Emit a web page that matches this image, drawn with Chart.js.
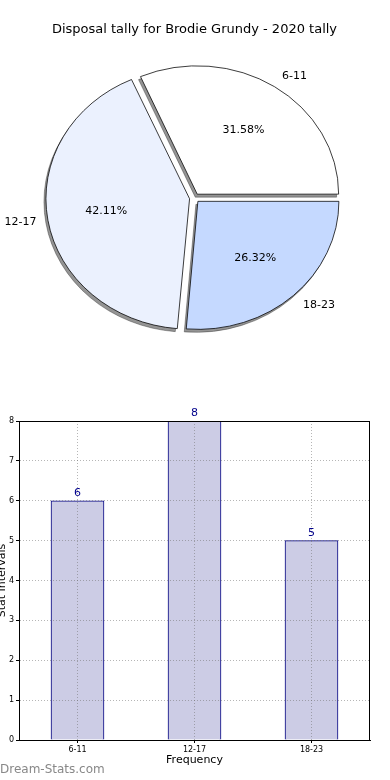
<!DOCTYPE html>
<html>
<head>
<meta charset="utf-8">
<script src="https://cdn.jsdelivr.net/npm/chart.js@4.4.1/dist/chart.umd.min.js"></script>
<style>
body { margin: 0; background: #fff; width: 390px; height: 780px; position: relative; overflow: hidden; }
#pie-chart { position: absolute; left: 0; top: 0; }
#bar-chart { position: absolute; left: 0; top: 390px; }
#mark { position: absolute; left: 0; top: 762px; font: 12px "DejaVu Sans", sans-serif; color: #888; }
</style>
</head>
<body>
<canvas id="pie-chart" width="390" height="370"></canvas>
<canvas id="bar-chart" width="390" height="390"></canvas>
<div id="mark">Dream-Stats.com</div>
<script>
const categories = ['6-11', '12-17', '18-23'];
const tally = [6, 8, 5];
const sliceColours = ['#ffffff', '#ebf1fe', '#c5d9ff'];
const chartTitle = 'Disposal tally for Brodie Grundy - 2020 tally';

Chart.defaults.font.family = '"DejaVu Sans", sans-serif';

const total = tally.reduce((a, b) => a + b, 0);
// matplotlib goes counter-clockwise from 3 o'clock, chart.js clockwise -> reverse
const pieLabels = categories.slice().reverse();
const pieValues = tally.slice().reverse();
const pieColours = sliceColours.slice().reverse();
const squash = 128 / 141;

function squashAround(ctx, arc) {
    ctx.translate(arc.x, arc.y);
    ctx.scale(1, squash);
    ctx.translate(-arc.x, -arc.y);
}

const pieShape = {
    id: 'pieShape',
    beforeDatasetsDraw(chart) {
        const ctx = chart.ctx;
        const arcs = chart.getDatasetMeta(0).data;
        // grey drop shadow, drawn once under everything
        ctx.save();
        ctx.translate(-2, 3);
        squashAround(ctx, arcs[0]);
        ctx.filter = 'brightness(0) opacity(0.42)';
        arcs.forEach(arc => arc.draw(ctx));
        ctx.restore();
        ctx.save();
        squashAround(ctx, arcs[0]);
    },
    afterDatasetsDraw(chart) {
        const ctx = chart.ctx;
        ctx.restore();
        ctx.save();
        ctx.fillStyle = '#000';
        ctx.font = '11px "DejaVu Sans", sans-serif';
        ctx.textBaseline = 'middle';
        chart.getDatasetMeta(0).data.forEach((arc, i) => {
            const p = arc.getProps(['x', 'y', 'startAngle', 'endAngle', 'outerRadius'], true);
            const mid = (p.startAngle + p.endAngle) / 2;
            const off = (arc.options.offset || 0) / 4;
            const cx = p.x + Math.cos(mid) * off;
            const cy = p.y + Math.sin(mid) * off * squash;
            const lx = cx + Math.cos(mid) * p.outerRadius * 1.1;
            const ly = cy + Math.sin(mid) * p.outerRadius * 1.1 * squash;
            ctx.textAlign = lx > cx ? 'left' : 'right';
            ctx.fillText(pieLabels[i], lx, ly);
            const px = cx + Math.cos(mid) * p.outerRadius * 0.6;
            const py = cy + Math.sin(mid) * p.outerRadius * 0.6 * squash;
            ctx.textAlign = 'center';
            ctx.fillText((pieValues[i] / total * 100).toFixed(2) + '%', px, py);
        });
        ctx.restore();
    }
};

new Chart(document.getElementById('pie-chart'), {
    type: 'pie',
    data: {
        labels: pieLabels,
        datasets: [{
            data: pieValues,
            backgroundColor: pieColours,
            borderColor: '#000',
            borderWidth: 0.8,
            offset: 20
        }]
    },
    options: {
        responsive: false,
        animation: false,
        events: [],
        rotation: 90,
        radius: 141,
        layout: { padding: { left: 0, right: 1, top: 0, bottom: 21.6 } },
        plugins: {
            legend: { display: false },
            tooltip: { enabled: false },
            title: {
                display: true,
                text: chartTitle,
                color: '#000',
                font: { size: 13, weight: 'normal' },
                padding: { top: 22, bottom: 10 }
            }
        }
    },
    plugins: [pieShape]
});

// black box round the plot + numbers above bars
const barExtras = {
    id: 'barExtras',
    afterDraw(chart) {
        const ctx = chart.ctx;
        const a = chart.chartArea;
        ctx.save();
        ctx.strokeStyle = '#000';
        ctx.lineWidth = 1;
        ctx.strokeRect(Math.round(a.left) + 0.5, Math.round(a.top) + 0.5, Math.round(a.width) - 1, Math.round(a.height));
        ctx.fillStyle = '#00008b';
        ctx.font = '11px "DejaVu Sans", sans-serif';
        ctx.textAlign = 'center';
        ctx.textBaseline = 'bottom';
        chart.getDatasetMeta(0).data.forEach((bar, i) => {
            ctx.fillText(String(tally[i]), bar.x, bar.y - 2);
        });
        ctx.restore();
    }
};

const gridStyle = { z: 1, color: 'rgba(110,110,110,0.5)', tickLength: 3, tickColor: '#000' };

new Chart(document.getElementById('bar-chart'), {
    type: 'bar',
    data: {
        labels: categories,
        datasets: [{
            data: tally,
            backgroundColor: '#ccccE5',
            borderColor: '#000080',
            borderWidth: 1,
            barThickness: 53
        }]
    },
    options: {
        responsive: false,
        animation: false,
        events: [],
        layout: { padding: { left: 0, right: 20, top: 31, bottom: 13 } },
        plugins: {
            legend: { display: false },
            tooltip: { enabled: false }
        },
        scales: {
            x: {
                grid: Object.assign({ offset: false }, gridStyle),
                border: { dash: [1, 2], color: '#000', z: 1 },
                ticks: { color: '#000', font: { size: 8 }, padding: 2, maxRotation: 0 },
                title: { display: true, text: 'Frequency', color: '#000', font: { size: 11 }, padding: 0 },
                afterFit(scale) { scale.height = 27; }
            },
            y: {
                min: 0,
                max: 8,
                grid: gridStyle,
                border: { dash: [1, 2], color: '#000', z: 1 },
                ticks: { stepSize: 1, color: '#000', font: { size: 8 }, padding: 2 },
                title: { display: true, text: 'Stat Intervals', color: '#000', font: { size: 11 }, padding: { top: -4, bottom: 0 } },
                afterFit(scale) { scale.width = 19; }
            }
        }
    },
    plugins: [barExtras]
});
</script>
</body>
</html>
